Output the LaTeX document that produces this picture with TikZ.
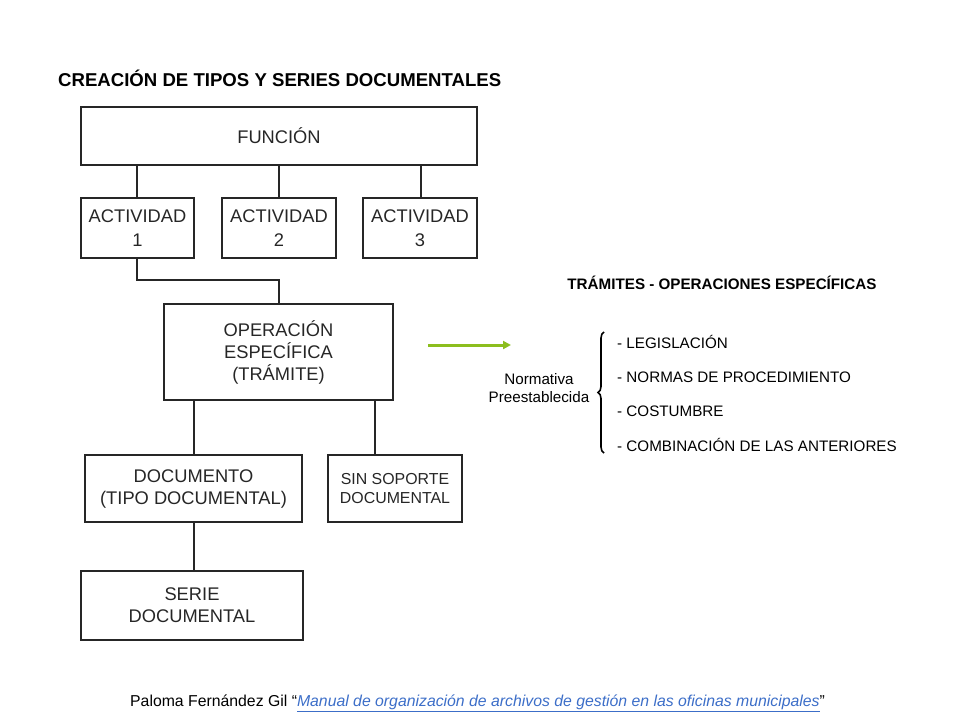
\documentclass[tikz,border=0pt]{standalone}
\usepackage{fontspec}
\setmainfont{Liberation Sans}
\usetikzlibrary{decorations.pathreplacing,arrows.meta}
\definecolor{linkblue}{RGB}{60,110,200}
\definecolor{arrgreen}{RGB}{140,190,30}
\begin{document}
\begin{tikzpicture}[x=1pt,y=-1pt,
  box/.style={draw=black!85,line width=1.6pt,inner sep=0pt,align=center,font=\fontsize{18.3}{22}\selectfont,text=black!85},
  conn/.style={draw=black!85,line width=1.6pt},
  item/.style={anchor=west,font=\fontsize{15.2}{18}\selectfont,inner sep=0pt}]
\useasboundingbox (0,0) rectangle (960,720);
\node[anchor=west,font=\bfseries\fontsize{18.6}{22}\selectfont,inner sep=0pt] (title) at (58,78) {CREACIÓN DE TIPOS Y SERIES DOCUMENTALES};
\node[box,minimum width=396pt,minimum height=58pt] (fun) at (279,136) {FUNCIÓN};
\node[box,minimum width=113pt,minimum height=60pt] (a1) at (137.5,228) {ACTIVIDAD\\[2pt]1};
\node[box,minimum width=114pt,minimum height=60pt] (a2) at (279,228) {ACTIVIDAD\\[2pt]2};
\node[box,minimum width=114pt,minimum height=60pt] (a3) at (420,228) {ACTIVIDAD\\[2pt]3};
\node[box,minimum width=229pt,minimum height=96pt] (op) at (278.5,352) {OPERACIÓN\\ESPECÍFICA\\(TRÁMITE)};
\node[box,minimum width=217pt,minimum height=67pt] (doc) at (193.5,488.5) {DOCUMENTO\\(TIPO DOCUMENTAL)};
\node[box,minimum width=134pt,minimum height=67pt,font=\fontsize{15.9}{19}\selectfont] (sin) at (395,488.5) {SIN SOPORTE\\DOCUMENTAL};
\node[box,minimum width=222pt,minimum height=69pt] (ser) at (192,605.5) {SERIE\\DOCUMENTAL};
\draw[conn] (a1.north -| 137,0) -- (fun.south -| 137,0);
\draw[conn] (a2.north) -- (a2.north |- fun.south);
\draw[conn] (a3.north -| 421,0) -- (fun.south -| 421,0);
\draw[conn] (a1.south -| 137,0) |- (279,280) -- (op.north -| 279,0);
\draw[conn] (op.south -| 194,0) -- (doc.north -| 194,0);
\draw[conn] (op.south -| 375,0) -- (sin.north -| 375,0);
\draw[conn] (doc.south -| 194,0) -- (ser.north -| 194,0);
\coordinate (gs) at (428,345);
\coordinate (ge) at (511,345);
\draw[arrgreen,line width=3pt,-{Triangle[length=8pt,width=8pt]}] (gs) -- (ge);
\node[font=\bfseries\fontsize{15.2}{18}\selectfont,inner sep=0pt] (rt) at (722,283) {TRÁMITES - OPERACIONES ESPECÍFICAS};
\node[align=center,font=\fontsize{15.2}{18}\selectfont,inner sep=0pt] (norm) at (539,388) {Normativa\\Preestablecida};
\node[item] (i1) at (617,342) {- LEGISLACIÓN};
\node[item] (i2) at (617,377) {- NORMAS DE PROCEDIMIENTO};
\node[item] (i3) at (617,411) {- COSTUMBRE};
\node[item] (i4) at (617,445) {- COMBINACIÓN DE LAS ANTERIORES};
\draw[line width=1.6pt,decorate,decoration={brace,amplitude=6pt}] (604,453) -- (604,332);
\node[anchor=west,inner sep=0pt,font=\fontsize{15.8}{19}\selectfont] (foot) at (130,703) {Paloma Fernández Gil “\textcolor{linkblue}{\underline{\textit{Manual de organización de archivos de gestión en las oficinas municipales}}}”};
\end{tikzpicture}
\end{document}
